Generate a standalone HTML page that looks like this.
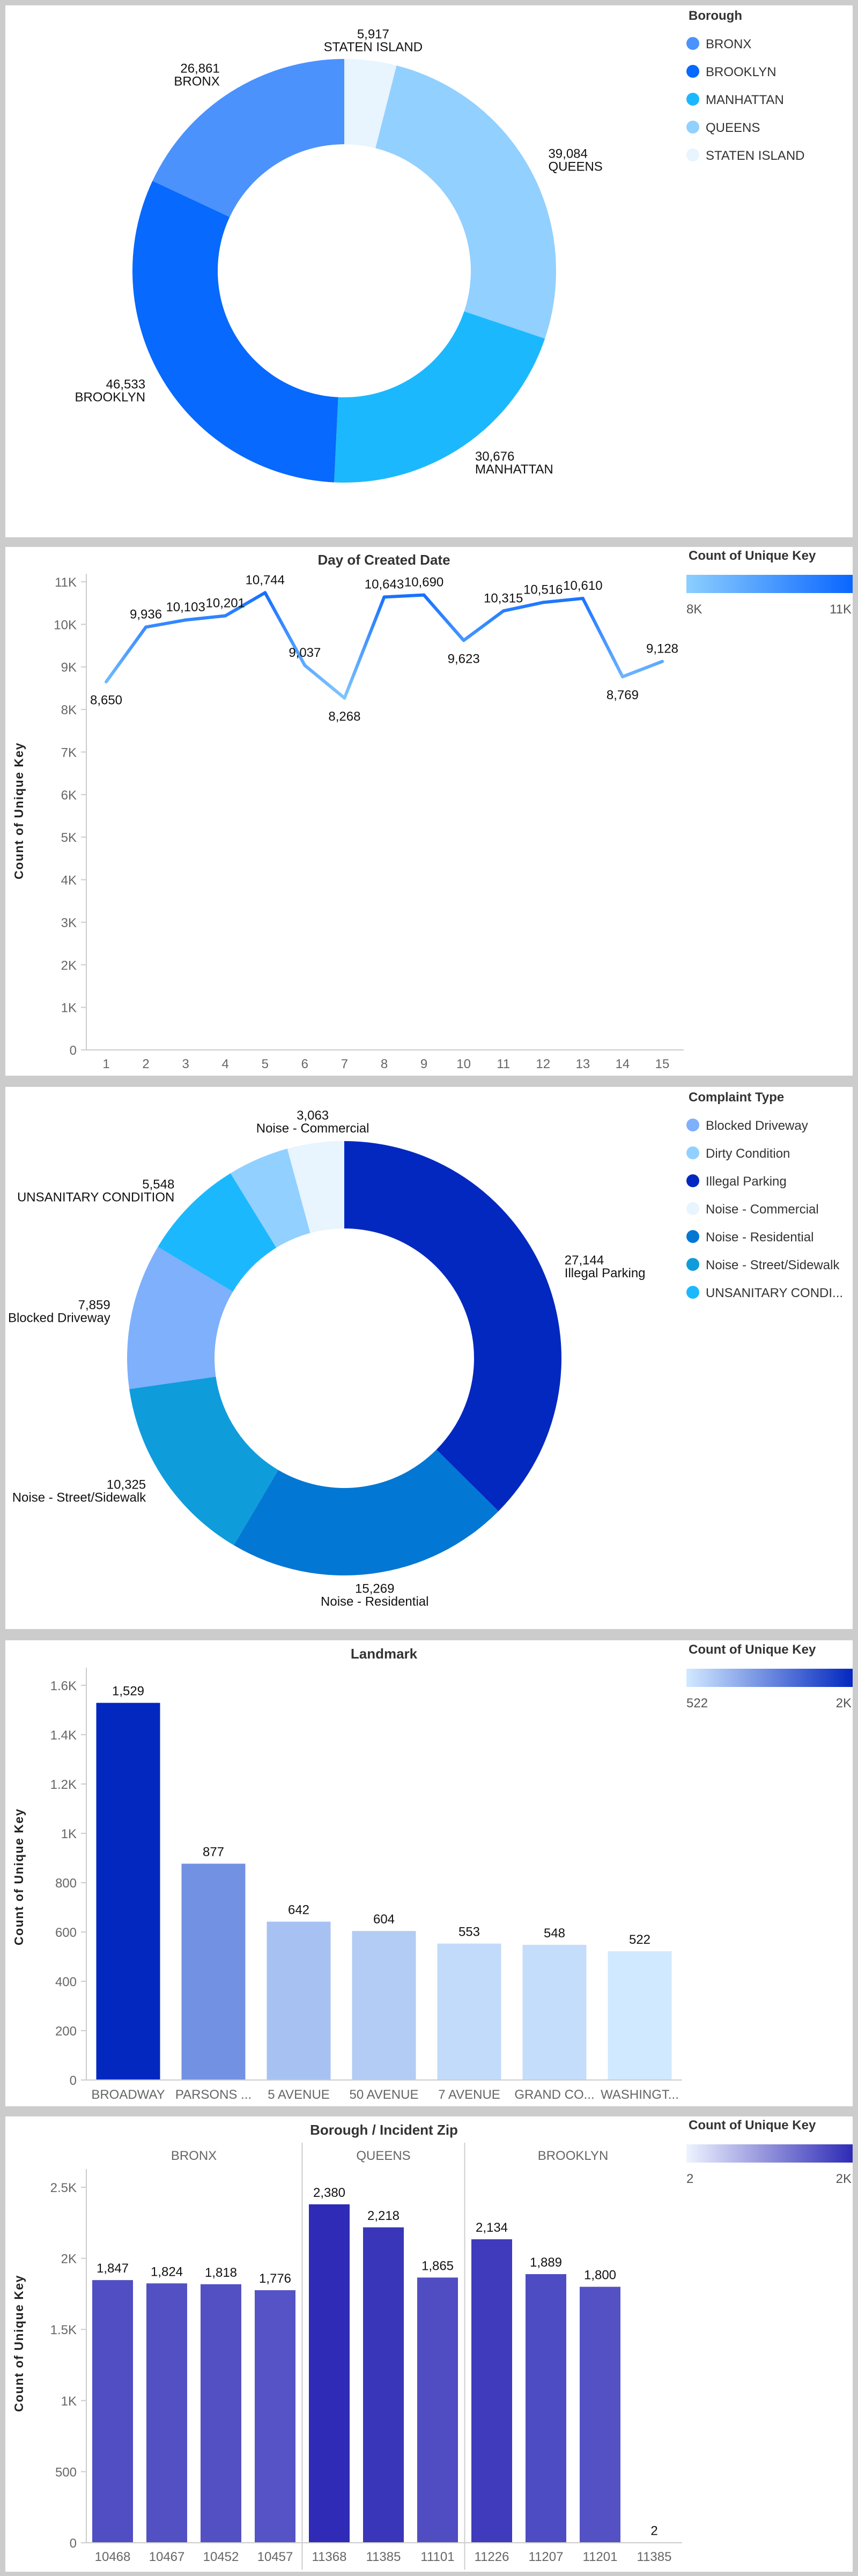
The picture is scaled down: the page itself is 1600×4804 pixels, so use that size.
<!DOCTYPE html>
<html><head><meta charset="utf-8">
<style>
html,body{margin:0;padding:0;background:#cccccc;}
svg{display:block;}
text{font-family:"Liberation Sans Narrow","Liberation Sans",sans-serif;}
</style></head>
<body>
<svg id="root" width="1600" height="4804" viewBox="0 0 1600 4804" xmlns="http://www.w3.org/2000/svg">
  <rect x="0" y="0" width="1600" height="4804" fill="#cccccc"/>
  <rect x="10" y="10" width="1580" height="992" fill="#fff"/>
  <rect x="10" y="1020" width="1580" height="986" fill="#fff"/>
  <rect x="10" y="2027" width="1580" height="1011" fill="#fff"/>
  <rect x="10" y="3059" width="1580" height="869" fill="#fff"/>
  <rect x="10" y="3947" width="1580" height="849" fill="#fff"/>
  <g id="g1"></g>
  <g id="g2"></g>
  <g id="g3"></g>
  <g id="g4"></g>
  <g id="g5"></g>
</svg>
<script>
// ---------- data ----------
const boroughCats = ["STATEN ISLAND","QUEENS","MANHATTAN","BROOKLYN","BRONX"];
const boroughVals = [5917,39084,30676,46533,26861];
const boroughColors = ["#e8f4fe","#92d0ff","#1cb8fe","#0769fd","#4b92fd"];
const boroughLegend = ["BRONX","BROOKLYN","MANHATTAN","QUEENS","STATEN ISLAND"];

const dayCats = [1,2,3,4,5,6,7,8,9,10,11,12,13,14,15];
const dayVals = [8650,9936,10103,10201,10744,9037,8268,10643,10690,9623,10315,10516,10610,8769,9128];
const dayTicks = [0,1000,2000,3000,4000,5000,6000,7000,8000,9000,10000,11000];
const dayTickLabels = ["0","1K","2K","3K","4K","5K","6K","7K","8K","9K","10K","11K"];

const compCats = ["Illegal Parking","Noise - Residential","Noise - Street/Sidewalk","Blocked Driveway","UNSANITARY CONDITION","Dirty Condition","Noise - Commercial"];
const compVals = [27144,15269,10325,7859,5548,3300,3063];
const compLabeled = [true,true,true,true,true,false,true];
const compColors = ["#0328c0","#0277d4","#0f9cdb","#7eb0fc","#1cb8fe","#92d0ff","#e8f4fe"];
const compLegend = ["Blocked Driveway","Dirty Condition","Illegal Parking","Noise - Commercial","Noise - Residential","Noise - Street/Sidewalk","UNSANITARY CONDI..."];
const compLegendColors = ["#7eb0fc","#92d0ff","#0328c0","#e8f4fe","#0277d4","#0f9cdb","#1cb8fe"];

const landCats = ["BROADWAY","PARSONS ...","5 AVENUE","50 AVENUE","7 AVENUE","GRAND CO...","WASHINGT..."];
const landVals = [1529,877,642,604,553,548,522];
const landTicks = [0,200,400,600,800,1000,1200,1400,1600];
const landTickLabels = ["0","200","400","600","800","1K","1.2K","1.4K","1.6K"];

const zipGroups = ["BRONX","QUEENS","BROOKLYN"];
const zipGroupOf = [0,0,0,0,1,1,1,2,2,2,2];
const zipCats = ["10468","10467","10452","10457","11368","11385","11101","11226","11207","11201","11385"];
const zipVals = [1847,1824,1818,1776,2380,2218,1865,2134,1889,1800,2];
const zipTicks = [0,500,1000,1500,2000,2500];
const zipTickLabels = ["0","500","1K","1.5K","2K","2.5K"];

// ---------- helpers ----------
const NS="http://www.w3.org/2000/svg";
function mk(parent,tag,attrs,txt){const e=document.createElementNS(NS,tag);for(const k in attrs)e.setAttribute(k,attrs[k]);if(txt!==undefined)e.textContent=txt;parent.appendChild(e);return e;}
function fmt(v){return v.toLocaleString("en-US");}
function hex2rgb(h){return [parseInt(h.slice(1,3),16),parseInt(h.slice(3,5),16),parseInt(h.slice(5,7),16)];}
function lerpColor(a,b,t){t=Math.max(0,Math.min(1,t));const A=hex2rgb(a),B=hex2rgb(b);return "rgb("+A.map((x,i)=>Math.round(x+(B[i]-x)*t)).join(",")+")";}
function arcPath(cx,cy,R,r,a0,a1){
  const p=(rad,a)=>[cx+rad*Math.sin(a),cy-rad*Math.cos(a)];
  const large=(a1-a0)>Math.PI?1:0;
  const [x0,y0]=p(R,a0),[x1,y1]=p(R,a1),[x2,y2]=p(r,a1),[x3,y3]=p(r,a0);
  return `M${x0},${y0}A${R},${R} 0 ${large} 1 ${x1},${y1}L${x2},${y2}A${r},${r} 0 ${large} 0 ${x3},${y3}Z`;
}

function donut(g,cx,cy,R,r,cats,vals,colors,labeled,labelOff){
  const tot=vals.reduce((a,b)=>a+b,0);let a=0;
  cats.forEach((c,i)=>{
    const a1=a+vals[i]/tot*2*Math.PI;
    const p=mk(g,"path",{d:arcPath(cx,cy,R,r,a,a1),fill:colors[i]});
    
    
    if(!labeled||labeled[i]){
      const m=(a+a1)/2, lr=R+labelOff;
      const lx=cx+lr*Math.sin(m), ly=cy-lr*Math.cos(m);
      const s=Math.sin(m);
      const anchor=Math.abs(s)<0.25?"middle":(s>0?"start":"end");
      const t=mk(g,"text",{x:lx,y:ly-4,"font-size":24,fill:"#111","text-anchor":anchor});
      
      
      mk(t,"tspan",{x:lx,dy:0},fmt(vals[i]));
      mk(t,"tspan",{x:lx,dy:24},c);
    }
    a=a1;
  });
}
function legendDots(g,x,y0,step,title,names,colors){
  const t=mk(g,"text",{x:x-8,y:y0-44,"font-size":24,"font-weight":"bold",fill:"#333"},title);
  
  
  names.forEach((n,i)=>{
    const e=mk(g,"g",{});
    
    
    mk(e,"ellipse",{cx:x,cy:y0+i*step,rx:12,ry:12,fill:colors[i]});
    mk(e,"text",{x:x+24,y:y0+i*step+9,"font-size":24,fill:"#333"},n);
  });
}
function gradLegend(g,id,y,c0,c1,lo,hi){
  const t=mk(g,"text",{x:1284,y:y-28,"font-size":24,"font-weight":"bold",fill:"#333"},"Count of Unique Key");
  
  
  const defs=mk(g,"defs",{});
  const lg=mk(defs,"linearGradient",{id:id,x1:0,y1:0,x2:1,y2:0});
  mk(lg,"stop",{offset:0,"stop-color":c0});mk(lg,"stop",{offset:1,"stop-color":c1});
  const r=mk(g,"rect",{x:1280,y:y,width:310,height:34,fill:`url(#${id})`});
  
  
  mk(g,"text",{x:1280,y:y+72,"font-size":24,fill:"#555"},lo);
  mk(g,"text",{x:1588,y:y+72,"font-size":24,fill:"#555","text-anchor":"end"},hi);
}
function yAxis(g,x,yfn,ticks,labels,top,bottom,titleY){
  const l=mk(g,"line",{x1:x,y1:top,x2:x,y2:bottom,stroke:"#ccc","stroke-width":2});
  
  
  ticks.forEach((t,i)=>{
    const y=yfn(t);
    mk(g,"line",{x1:x-10,y1:y,x2:x,y2:y,stroke:"#ccc","stroke-width":2});
    const tx=mk(g,"text",{x:x-18,y:y+9,"font-size":24,fill:"#666","text-anchor":"end"},labels[i]);
    
    
  });
  const yt=mk(g,"text",{x:0,y:0,"font-size":23,"font-weight":"bold",fill:"#222","text-anchor":"middle","letter-spacing":"1.5",transform:`translate(43,${titleY}) rotate(-90)`,style:"font-family:'Liberation Sans',sans-serif"},"Count of Unique Key");
  
  
}
function title(g,x,y,s){const t=mk(g,"text",{x:x,y:y,"font-size":26,"font-weight":"bold",fill:"#333","text-anchor":"middle"},s);}

// ---------- chart 1 ----------
const g1=document.getElementById("g1");
donut(g1,642,505,395,236,boroughCats,boroughVals,boroughColors,null,38);
legendDots(g1,1292,81,52,"Borough",boroughLegend,["#4b92fd","#0769fd","#1cb8fe","#92d0ff","#e8f4fe"]);

// ---------- chart 2 ----------
const g2=document.getElementById("g2");
title(g2,716,1053,"Day of Created Date");
const y2=v=>1958-v*(1958-1085)/11000;
const x2=i=>198+i*(1235-198)/(dayCats.length-1);
yAxis(g2,161,y2,dayTicks,dayTickLabels,1070,1958,1512);
mk(g2,"line",{x1:161,y1:1958,x2:1275,y2:1958,stroke:"#ccc","stroke-width":2});
dayCats.forEach((c,i)=>{
  const t=mk(g2,"text",{x:x2(i),y:1992,"font-size":24,fill:"#666","text-anchor":"middle"},c);
  
  
});
const lc=v=>lerpColor("#8ccfff","#0a66ff",(v-8000)/3000);
const defs2=mk(g2,"defs",{});
for(let i=0;i<dayVals.length-1;i++){
  const id="seg"+i;
  const lg=mk(defs2,"linearGradient",{id:id,gradientUnits:"userSpaceOnUse",x1:x2(i),y1:y2(dayVals[i]),x2:x2(i+1),y2:y2(dayVals[i+1])});
  mk(lg,"stop",{offset:0,"stop-color":lc(dayVals[i])});mk(lg,"stop",{offset:1,"stop-color":lc(dayVals[i+1])});
  const s=mk(g2,"line",{x1:x2(i),y1:y2(dayVals[i]),x2:x2(i+1),y2:y2(dayVals[i+1]),stroke:`url(#${id})`,"stroke-width":6,"stroke-linecap":"round"});
  
  
}
dayVals.forEach((v,i)=>{
  const prev=i>0?dayVals[i-1]:Infinity,next=i<dayVals.length-1?dayVals[i+1]:Infinity;
  const below=v<prev&&v<next;
  const t=mk(g2,"text",{x:x2(i),y:below?y2(v)+42:y2(v)-16,"font-size":24,fill:"#111","text-anchor":"middle"},fmt(v));
  
  
});
gradLegend(g2,"lg2",1072,"#8ccfff","#0a66ff","8K","11K");

// ---------- chart 3 ----------
const g3=document.getElementById("g3");
donut(g3,642,2533,405,242,compCats,compVals,compColors,compLabeled,40);
legendDots(g3,1292,2098,52,"Complaint Type",compLegend,compLegendColors);

// ---------- chart 4 ----------
const g4=document.getElementById("g4");
title(g4,716,3093,"Landmark");
const y4=v=>3879-v*(3879-3143)/1600;
const x4=i=>239+i*159;
yAxis(g4,161,y4,landTicks,landTickLabels,3110,3879,3500);
const lmin=Math.min(...landVals),lmax=Math.max(...landVals);
const lcol=v=>lerpColor("#d1e9ff","#0328c0",Math.pow((v-lmin)/(lmax-lmin),0.75));
landVals.forEach((v,i)=>{
  const b=mk(g4,"rect",{x:x4(i)-59.5,y:y4(v),width:119,height:3879-y4(v),fill:lcol(v)});
  
  
  const t=mk(g4,"text",{x:x4(i),y:y4(v)-14,"font-size":24,fill:"#111","text-anchor":"middle"},fmt(v));
  
  
  const xl=mk(g4,"text",{x:x4(i),y:3914,"font-size":24,fill:"#666","text-anchor":"middle"},landCats[i]);
  
  
});
mk(g4,"line",{x1:155,y1:3879,x2:1272,y2:3879,stroke:"#ccc","stroke-width":2});
gradLegend(g4,"lg4",3112,"#d1e9ff","#0328c0","522","2K");

// ---------- chart 5 ----------
const g5=document.getElementById("g5");
title(g5,716,3981,"Borough / Incident Zip");
const y5=v=>4742-v*(4742-4079)/2500;
const x5=i=>210+i*101;
yAxis(g5,161,y5,zipTicks,zipTickLabels,4045,4742,4370);
const zmax=Math.max(...zipVals);
const zcol=v=>lerpColor("#eef3ff","#2f2bb6",v<100?0.05:0.8+0.2*(v-1776)/(zmax-1776));
zipVals.forEach((v,i)=>{
  const b=mk(g5,"rect",{x:x5(i)-38,y:y5(v),width:76,height:4742-y5(v),fill:zcol(v)});
  
  
  const t=mk(g5,"text",{x:x5(i),y:y5(v)-14,"font-size":24,fill:"#111","text-anchor":"middle"},fmt(v));
  
  
  const xl=mk(g5,"text",{x:x5(i),y:4776,"font-size":24,fill:"#666","text-anchor":"middle"},zipCats[i]);
  
  
});
zipGroups.forEach((gname,gi)=>{
  const idx=zipGroupOf.map((v,i)=>v===gi?i:-1).filter(i=>i>=0);
  const cx=(x5(idx[0])+x5(idx[idx.length-1]))/2;
  const t=mk(g5,"text",{x:cx,y:4028,"font-size":24,fill:"#666","text-anchor":"middle"},gname);
  
  
  if(gi>0){
    const sx=(x5(idx[0]-1)+x5(idx[0]))/2;
    const l=mk(g5,"line",{x1:sx,y1:3996,x2:sx,y2:4792,stroke:"#ccc","stroke-width":2});
    
    
  }
});
mk(g5,"line",{x1:155,y1:4742,x2:1272,y2:4742,stroke:"#ccc","stroke-width":2});
gradLegend(g5,"lg5",3999,"#eef3ff","#2f2bb6","2","2K");
</script>
</body></html>
